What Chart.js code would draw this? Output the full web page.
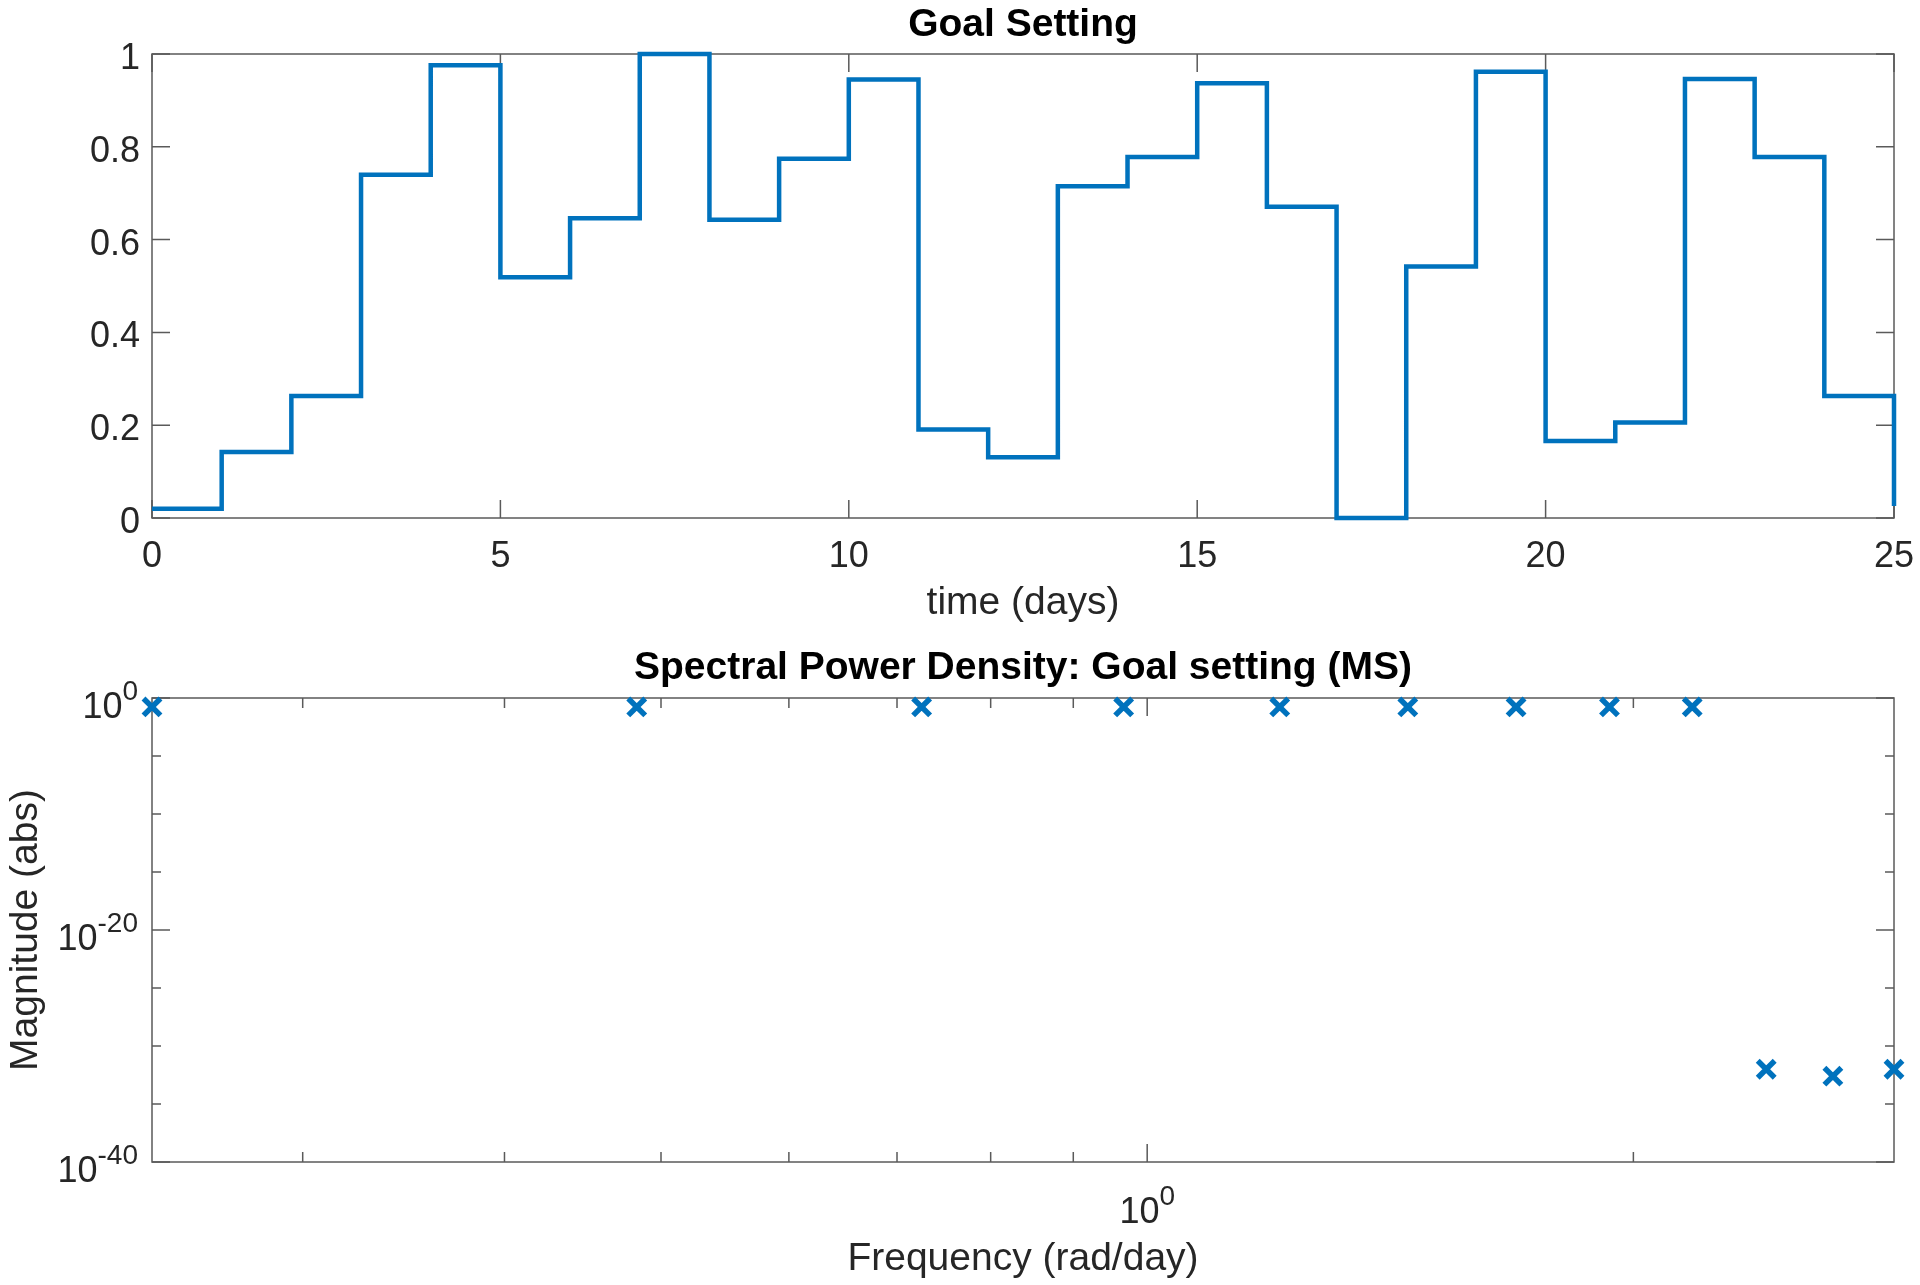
<!DOCTYPE html>
<html lang="en">
<head>
    <meta charset="UTF-8">
    <title>Goal Setting</title>
    <script src="https://cdn.jsdelivr.net/npm/chart.js"></script>
    <style>
        body {
    margin: 0;
    background-color: #ffffff;
    width: 1920px;
    height: 1285px;
    overflow: hidden;
}

canvas {
    position: absolute;
    left: 0;
    display: block;
}

#goalChart { top: 0; }
#spectrumChart { top: 640px; }
    </style>
</head>
<body>
    <canvas id="goalChart" width="1920" height="640"></canvas>
    <canvas id="spectrumChart" width="1920" height="645"></canvas>

    <script>
        // ---- data ----
        const goalDays = [0, 1, 2, 3, 4, 5, 6, 7, 8, 9, 10, 11, 12, 13, 14, 15, 16, 17, 18, 19, 20, 21, 22, 23, 24, 25];
        const goalValues = [0.02, 0.142, 0.263, 0.740, 0.976, 0.519, 0.646, 1.0, 0.643, 0.774, 0.945, 0.191, 0.131,
                            0.715, 0.778, 0.937, 0.671, 0.0, 0.542, 0.962, 0.166, 0.206, 0.946, 0.778, 0.263, 0.026];

        const goalTicksX = [0, 5, 10, 15, 20, 25];
        const goalTickLabelsX = ['0', '5', '10', '15', '20', '25'];
        const goalTicksY = [0, 0.2, 0.4, 0.6, 0.8, 1];
        const goalTickLabelsY = ['0', '0.2', '0.4', '0.6', '0.8', '1'];

        const spectrumFreq = [0.242, 0.483, 0.725, 0.967, 1.208, 1.450, 1.692, 1.933, 2.175, 2.417, 2.658, 2.900];
        const spectrumMag = [0.17, 0.17, 0.17, 0.17, 0.17, 0.17, 0.17, 0.17, 0.17, 1e-32, 2.5e-33, 1e-32];

        const spectrumTicksX = [0.3, 0.4, 0.5, 0.6, 0.7, 0.8, 0.9, 1, 2];
        const spectrumTickLabelsX = ['', '', '', '', '', '', '', '10^0', ''];
        const spectrumTicksY = [1, 1e-5, 1e-10, 1e-15, 1e-20, 1e-25, 1e-30, 1e-35, 1e-40];
        const spectrumTickLabelsY = ['10^0', '', '', '', '10^-20', '', '', '', '10^-40'];

        const LINE_BLUE = '#0072BD';
        const AXIS_COLOR = '#5a5a5a';
        const TEXT_COLOR = '#262626';
        const FONT = "'Liberation Sans', Arial, sans-serif";
        const TICK_FONT = '36px ' + FONT;
        const SUP_FONT = '28px ' + FONT;
        const LABEL_FONT = '39px ' + FONT;
        const TITLE_FONT = 'bold 39px ' + FONT;

        // turn a value/label list into scale ticks (label kept in txt, chart.js overwrites .label)
        function makeTicks(values, labels) {
            return values.map((v, i) => ({ value: v, txt: labels[i], major: labels[i] !== '' }));
        }

        // draws "10^-20" style text; y is the baseline of the main part
        function drawTickText(ctx, txt, x, y, align) {
            const parts = txt.split('^');
            ctx.font = TICK_FONT;
            const wb = ctx.measureText(parts[0]).width;
            let ws = 0;
            if (parts.length > 1) {
                ctx.font = SUP_FONT;
                ws = ctx.measureText(parts[1]).width;
            }
            const total = wb + ws;
            const x0 = align === 'right' ? x - total : (align === 'center' ? x - total / 2 : x);
            ctx.textAlign = 'left';
            ctx.textBaseline = 'alphabetic';
            ctx.font = TICK_FONT;
            ctx.fillText(parts[0], x0, y);
            if (parts.length > 1) {
                ctx.font = SUP_FONT;
                ctx.fillText(parts[1], x0 + wb, y - 18);
            }
        }

        // matlab look: boxed axes, ticks pointing inward on all four sides
        const matlabAxes = {
            id: 'matlabAxes',
            beforeDatasetsDraw(chart) {
                const ctx = chart.ctx;
                const a = chart.chartArea;
                const xs = chart.scales.x;
                const ys = chart.scales.y;
                ctx.save();
                ctx.strokeStyle = AXIS_COLOR;
                ctx.lineWidth = 1.5;
                ctx.strokeRect(a.left, a.top, a.right - a.left, a.bottom - a.top);
                ctx.beginPath();
                xs.ticks.forEach(t => {
                    const px = xs.getPixelForValue(t.value);
                    const len = t.major ? 18 : 10;
                    ctx.moveTo(px, a.bottom);
                    ctx.lineTo(px, a.bottom - len);
                    ctx.moveTo(px, a.top);
                    ctx.lineTo(px, a.top + len);
                });
                ys.ticks.forEach(t => {
                    const py = ys.getPixelForValue(t.value);
                    const len = t.major ? 18 : 9;
                    ctx.moveTo(a.left, py);
                    ctx.lineTo(a.left + len, py);
                    ctx.moveTo(a.right, py);
                    ctx.lineTo(a.right - len, py);
                });
                ctx.stroke();
                ctx.restore();
            },
            afterDraw(chart, args, opts) {
                const ctx = chart.ctx;
                const a = chart.chartArea;
                const xs = chart.scales.x;
                const ys = chart.scales.y;
                const midX = (a.left + a.right) / 2;
                ctx.save();
                ctx.fillStyle = TEXT_COLOR;

                xs.ticks.forEach(t => {
                    if (!t.txt) return;
                    drawTickText(ctx, t.txt, xs.getPixelForValue(t.value), a.bottom + opts.xLabelDy, 'center');
                });
                ys.ticks.forEach(t => {
                    if (!t.txt) return;
                    drawTickText(ctx, t.txt, a.left - opts.yLabelGap, ys.getPixelForValue(t.value) + opts.yLabelDy, 'right');
                });

                ctx.textAlign = 'center';
                ctx.textBaseline = 'alphabetic';
                ctx.font = LABEL_FONT;
                ctx.fillText(opts.xTitle, midX, a.bottom + opts.xTitleDy);

                if (opts.yTitle) {
                    ctx.save();
                    ctx.translate(opts.yTitleX, (a.top + a.bottom) / 2);
                    ctx.rotate(-Math.PI / 2);
                    ctx.fillText(opts.yTitle, 0, 0);
                    ctx.restore();
                }

                ctx.fillStyle = '#000000';
                ctx.font = TITLE_FONT;
                ctx.fillText(opts.title, midX, a.top + opts.titleDy);
                ctx.restore();
            }
        };

        const goalCanvas = document.getElementById('goalChart');
        const goalChart = new Chart(goalCanvas.getContext('2d'), {
            type: 'line',
            data: {
                datasets: [{
                    data: goalDays.map((d, i) => ({ x: d, y: goalValues[i] })),
                    borderColor: LINE_BLUE,
                    borderWidth: 4.5,
                    pointRadius: 0,
                    stepped: true,
                    fill: false,
                    clip: false
                }]
            },
            options: {
                responsive: false,
                animation: false,
                devicePixelRatio: 1,
                layout: { padding: { top: 54, right: 26, left: 0, bottom: 0 } },
                scales: {
                    x: {
                        type: 'linear',
                        min: 0,
                        max: 25,
                        grid: { display: false, drawTicks: false },
                        border: { display: false },
                        ticks: { display: false },
                        afterBuildTicks: s => { s.ticks = makeTicks(goalTicksX, goalTickLabelsX); },
                        afterFit: s => { s.height = 122; }
                    },
                    y: {
                        type: 'linear',
                        min: 0,
                        max: 1,
                        grid: { display: false, drawTicks: false },
                        border: { display: false },
                        ticks: { display: false },
                        afterBuildTicks: s => { s.ticks = makeTicks(goalTicksY, goalTickLabelsY); },
                        afterFit: s => { s.width = 152; }
                    }
                },
                plugins: {
                    legend: { display: false },
                    tooltip: { enabled: false },
                    matlabAxes: {
                        title: 'Goal Setting',
                        xTitle: 'time (days)',
                        yTitle: '',
                        titleDy: -18,
                        xLabelDy: 49,
                        xTitleDy: 96,
                        yLabelDy: 15,
                        yLabelGap: 12
                    }
                }
            },
            plugins: [matlabAxes]
        });

        const spectrumCanvas = document.getElementById('spectrumChart');
        const spectrumChart = new Chart(spectrumCanvas.getContext('2d'), {
            type: 'scatter',
            data: {
                datasets: [{
                    data: spectrumFreq.map((f, i) => ({ x: f, y: spectrumMag[i] })),
                    pointStyle: 'crossRot',
                    pointRadius: 12,
                    pointBorderWidth: 5.5,
                    borderColor: LINE_BLUE,
                    backgroundColor: LINE_BLUE,
                    showLine: false,
                    clip: false
                }]
            },
            options: {
                responsive: false,
                animation: false,
                devicePixelRatio: 1,
                layout: { padding: { top: 58, right: 26, left: 0, bottom: 0 } },
                scales: {
                    x: {
                        type: 'logarithmic',
                        min: 0.242,
                        max: 2.9,
                        grid: { display: false, drawTicks: false },
                        border: { display: false },
                        ticks: { display: false },
                        afterBuildTicks: s => { s.ticks = makeTicks(spectrumTicksX, spectrumTickLabelsX); },
                        afterFit: s => { s.height = 123; }
                    },
                    y: {
                        type: 'logarithmic',
                        min: 1e-40,
                        max: 1,
                        grid: { display: false, drawTicks: false },
                        border: { display: false },
                        ticks: { display: false },
                        afterBuildTicks: s => { s.ticks = makeTicks(spectrumTicksY, spectrumTickLabelsY); },
                        afterFit: s => { s.width = 152; }
                    }
                },
                plugins: {
                    legend: { display: false },
                    tooltip: { enabled: false },
                    matlabAxes: {
                        title: 'Spectral Power Density: Goal setting (MS)',
                        xTitle: 'Frequency (rad/day)',
                        yTitle: 'Magnitude (abs)',
                        yTitleX: 37,
                        titleDy: -19,
                        xLabelDy: 61,
                        xTitleDy: 108,
                        yLabelDy: 20,
                        yLabelGap: 14
                    }
                }
            },
            plugins: [matlabAxes]
        });
    </script>
</body>
</html>
